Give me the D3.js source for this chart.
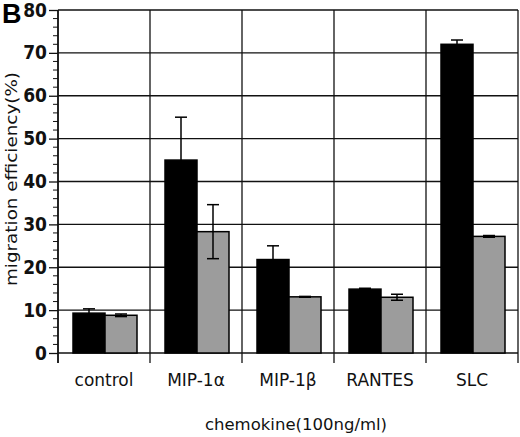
<!DOCTYPE html>
<html><head><meta charset="utf-8">
<script src="https://cdn.jsdelivr.net/npm/d3@7"></script>
<style>body{margin:0;background:#fff}svg{display:block}</style>
</head><body>
<script>
const categories = ["control", "MIP-1α", "MIP-1β", "RANTES", "SLC"];
const seriesNames = ["black", "gray"];
const blackValues = [9.3, 45.0, 21.8, 14.9, 72.0];
const blackErrors = [1.0, 10.0, 3.2, 0.2, 1.0];
const grayValues = [8.8, 28.3, 13.1, 13.0, 27.2];
const grayErrors = [0.3, 6.3, 0.1, 0.7, 0.2];
const yTicks = [0, 10, 20, 30, 40, 50, 60, 70, 80];
const yLabel = "migration efficiency(%)";
const xLabel = "chemokine(100ng/ml)";
const panelLetter = "B";

const W = 520, H = 437;
const m = {left: 58, right: 2, top: 10, bottom: 84};
const svg = d3.select("body").append("svg").attr("width", W).attr("height", H);
const iw = W - m.left - m.right, ih = H - m.top - m.bottom;
const g = svg.append("g").attr("transform", `translate(${m.left},${m.top})`);

const x = d3.scaleBand().domain(categories).range([0, iw]).paddingInner(0).paddingOuter(0);
const xs = d3.scaleBand().domain(seriesNames).range([15, x.bandwidth() - 13]);
const y = d3.scaleLinear().domain([0, 80]).range([ih, 0]);

const labelFont = "'DejaVu Sans', sans-serif";
const tickFont = "'Liberation Sans Narrow', 'DejaVu Sans Condensed', sans-serif";

// horizontal grid
g.append("g").selectAll("line").data(yTicks).join("line")
  .attr("x1", 0).attr("x2", iw).attr("y1", d => y(d)).attr("y2", d => y(d))
  .attr("stroke", "#111").attr("stroke-width", 1.3);
// vertical grid / category dividers
const bounds = categories.map(c => x(c)).concat([iw]);
g.append("g").selectAll("line").data(bounds).join("line")
  .attr("x1", d => d).attr("x2", d => d).attr("y1", 0).attr("y2", ih + 10)
  .attr("stroke", "#111").attr("stroke-width", 1.3);

// y axis
const yAxis = d3.axisLeft(y).tickValues(yTicks).tickSize(9).tickPadding(2);
const ya = g.append("g").call(yAxis);
ya.select(".domain").remove();
ya.selectAll("line").attr("stroke", "#111").attr("stroke-width", 1.3);
ya.selectAll("text").attr("font-family", tickFont).attr("font-weight", "bold")
  .attr("font-size", 19).attr("fill", "#111");
const minor = d3.range(0, 80, 2).filter(v => v % 10 !== 0);
g.append("g").selectAll("line").data(minor).join("line")
  .attr("x1", -5).attr("x2", 0).attr("y1", d => y(d)).attr("y2", d => y(d))
  .attr("stroke", "#111").attr("stroke-width", 1);
g.append("line").attr("x1", 0).attr("x2", 0).attr("y1", 0).attr("y2", ih + 10)
  .attr("stroke", "#111").attr("stroke-width", 1.5);

// bars
const data = categories.map((c, i) => [
  {c, s: "black", v: blackValues[i], e: blackErrors[i], fill: "#000"},
  {c, s: "gray", v: grayValues[i], e: grayErrors[i], fill: "#9c9c9c"}
]).flat();
g.append("g").selectAll("rect").data(data).join("rect")
  .attr("x", d => x(d.c) + xs(d.s)).attr("width", xs.bandwidth())
  .attr("y", d => y(d.v)).attr("height", d => y(0) - y(d.v))
  .attr("fill", d => d.fill).attr("stroke", "#000").attr("stroke-width", 1.5);

// error bars
const eg = g.append("g").attr("stroke", "#000").attr("stroke-width", 1.5);
data.forEach(d => {
  const cx = x(d.c) + xs(d.s) + xs.bandwidth() / 2;
  eg.append("line").attr("x1", cx).attr("x2", cx).attr("y1", y(d.v - d.e)).attr("y2", y(d.v + d.e));
  [d.v - d.e, d.v + d.e].forEach(v => eg.append("line")
    .attr("x1", cx - 6).attr("x2", cx + 6).attr("y1", y(v)).attr("y2", y(v)));
});

// category labels
g.append("g").selectAll("text").data(categories).join("text")
  .attr("x", d => x(d) + x.bandwidth() / 2).attr("y", ih + 33)
  .attr("text-anchor", "middle").attr("font-family", labelFont).attr("font-size", 17)
  .attr("fill", "#111").text(d => d);

svg.append("text").attr("x", 296).attr("y", 430).attr("text-anchor", "middle")
  .attr("font-family", labelFont).attr("font-size", 16.5).attr("fill", "#111").text(xLabel);

svg.append("text").attr("transform", "translate(17,286) rotate(-90)")
  .attr("font-family", labelFont).attr("font-size", 16.5).attr("fill", "#111")
  .attr("textLength", 214).attr("lengthAdjust", "spacingAndGlyphs").text(yLabel);

svg.append("text").attr("x", 2).attr("y", 23).attr("font-family", "'Liberation Sans', Arial, sans-serif")
  .attr("font-weight", "bold").attr("font-size", 27).attr("fill", "#000").text(panelLetter);
</script>
</body></html>
